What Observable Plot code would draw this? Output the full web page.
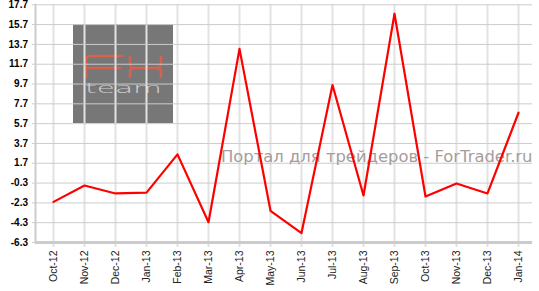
<!DOCTYPE html>
<html>
<head>
<meta charset="utf-8">
<script src="https://cdn.jsdelivr.net/npm/d3@7"></script>
<script src="https://cdn.jsdelivr.net/npm/@observablehq/plot@0.6"></script>
<style>
  html, body { margin: 0; padding: 0; background: #fff; }
  #wrap { position: relative; width: 539px; height: 291px; overflow: hidden; }
  #logo { position: absolute; left: 73px; top: 24px; width: 100px; height: 99px; z-index: 0; }
  #chart { position: absolute; left: 0; top: 0; z-index: 1; }
</style>
</head>
<body>
<div id="wrap">
  <svg id="logo" viewBox="0 0 100 99" width="100" height="99">
    <rect x="0" y="0" width="100" height="99" fill="#777"></rect>
    <g fill="none" stroke="#d5624e" stroke-width="2.6" stroke-linecap="butt">
      <path d="M13,54 L13,36 Q13,32 17,32 L50,32"></path>
      <path d="M13,44 L48,44"></path>
      <path d="M57,32 L57,40 Q57,44 61,44 L84,44 Q88,44 88,40 L88,32"></path>
      <path d="M57,54 L57,48 Q57,44 61,44"></path>
      <path d="M88,54 L88,48 Q88,44 84,44"></path>
    </g>
    <text x="12" y="69" font-family="DejaVu Sans" font-size="14" font-weight="200" fill="#d0d0d0" textLength="77" lengthAdjust="spacingAndGlyphs">team</text>
  </svg>
  <div id="chart"></div>
</div>
<script>
const months = ["Oct-12","Nov-12","Dec-12","Jan-13","Feb-13","Mar-13","Apr-13","May-13","Jun-13","Jul-13","Aug-13","Sep-13","Oct-13","Nov-13","Dec-13","Jan-14"];
const values = [-2.2, -0.55, -1.35, -1.27, 2.6, -4.25, 13.25, -3.1, -5.35, 9.6, -1.55, 16.8, -1.65, -0.35, -1.35, 6.8];
const yTicks = [-6.3, -4.3, -2.3, -0.3, 1.7, 3.7, 5.7, 7.7, 9.7, 11.7, 13.7, 15.7, 17.7];
const watermark = "Портал для трейдеров - ForTrader.ru";

const data = months.map((m, i) => ({month: m, value: values[i]}));

const chart = Plot.plot({
  width: 539,
  height: 291,
  marginLeft: 35,
  marginRight: 7,
  marginTop: 4.3,
  marginBottom: 49,
  style: {background: "transparent", fontFamily: "Liberation Sans, Arial, sans-serif"},
  x: {type: "point", domain: months, padding: 0, insetLeft: 17.7, insetRight: 14.3},
  y: {domain: [-6.3, 17.7]},
  marks: [
    Plot.gridX({stroke: "#e2e2e2", strokeOpacity: 1, strokeWidth: 2}),
    Plot.gridY(yTicks, {stroke: "#cccccc", strokeOpacity: 1, strokeWidth: 1}),
    Plot.axisX({tickSize: 5, tickPadding: 3, tickRotate: -90, stroke: "#e2e2e2", strokeWidth: 2, fill: "#222", fontSize: 10.5, label: null}),
    Plot.axisY(yTicks, {tickSize: 3, tickPadding: 4.5, tickFormat: d => d.toFixed(1), stroke: "#cccccc", fill: "#000", fontWeight: "bold", fontSize: 10, label: null}),
    Plot.ruleY([-6.3], {stroke: "#cccccc", strokeWidth: 3}),
    Plot.frame({anchor: "left", stroke: "#cccccc", strokeWidth: 2}),
    Plot.text([watermark], {frameAnchor: "right", textAnchor: "end", dy: 33.5, fontSize: 16.4, fontFamily: "DejaVu Sans", fill: "#a69d9d"}),
    Plot.line(data, {x: "month", y: "value", stroke: "red", strokeWidth: 2.2})
  ]
});
document.getElementById("chart").appendChild(chart);
</script>
</body>
</html>
